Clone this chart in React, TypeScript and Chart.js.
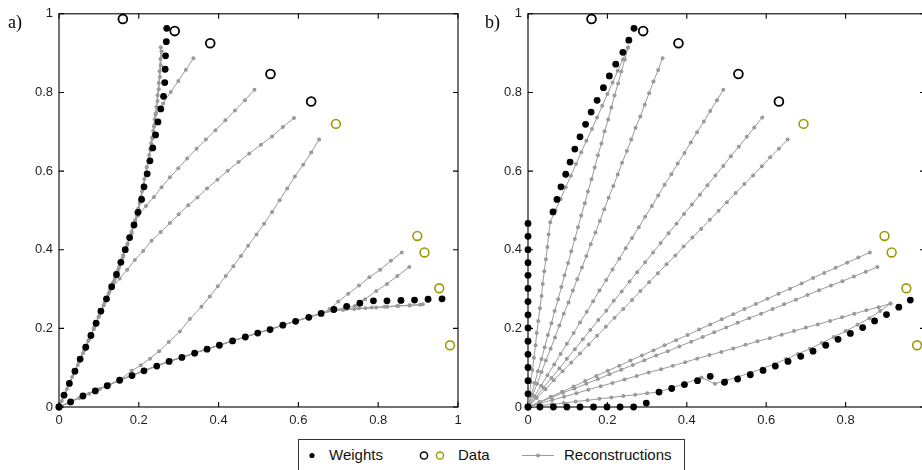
import React, { useEffect, useRef } from "react";
import { Chart, registerables } from "chart.js";

Chart.register(...registerables);

type P = [number, number];

const TICK_VALUES = [0, 0.2, 0.4, 0.6, 0.8, 1];
const TICK_LABELS = ["0", "0.2", "0.4", "0.6", "0.8", "1"];
const PANEL_LABELS = ["a)", "b)"];
const LEGEND_LABELS = ["Weights", "Data", "Reconstructions"];

// Data points (same in both panels)
const DATA_BLACK: P[] = [[0.160, 0.987], [0.290, 0.956], [0.379, 0.925], [0.530, 0.847], [0.632, 0.777]];
const DATA_OLIVE: P[] = [[0.694, 0.720], [0.898, 0.435], [0.916, 0.393], [0.953, 0.302], [0.980, 0.157]];

// ---- Panel a) ----
const A_WEIGHTS_1: P[] = [[0, 0], [0.0126, 0.030], [0.026, 0.060], [0.040, 0.091], [0.053, 0.122], [0.067, 0.152], [0.080, 0.182], [0.093, 0.213], [0.105, 0.244], [0.119, 0.275], [0.132, 0.306], [0.144, 0.337], [0.155, 0.368], [0.166, 0.400], [0.177, 0.431], [0.188, 0.463], [0.198, 0.495], [0.207, 0.528], [0.213, 0.560], [0.221, 0.593], [0.228, 0.626], [0.235, 0.659], [0.242, 0.692], [0.248, 0.725], [0.255, 0.758], [0.262, 0.790], [0.265, 0.825], [0.266, 0.859], [0.267, 0.893], [0.269, 0.929], [0.270, 0.963]];
const A_WEIGHTS_2: P[] = [[0, 0], [0.029, 0.013], [0.060, 0.028], [0.091, 0.041], [0.121, 0.054], [0.152, 0.068], [0.183, 0.080], [0.213, 0.092], [0.245, 0.104], [0.276, 0.116], [0.308, 0.126], [0.340, 0.137], [0.371, 0.147], [0.402, 0.157], [0.435, 0.168], [0.467, 0.178], [0.498, 0.188], [0.529, 0.197], [0.561, 0.208], [0.593, 0.218], [0.626, 0.228], [0.657, 0.238], [0.689, 0.248], [0.721, 0.256], [0.754, 0.264], [0.788, 0.270], [0.822, 0.270], [0.857, 0.271], [0.891, 0.272], [0.925, 0.274], [0.960, 0.275]];

const A_REC_1: P[] = [[0, 0], [0.013, 0.031], [0.026, 0.061], [0.040, 0.092], [0.053, 0.122], [0.067, 0.153], [0.080, 0.183], [0.093, 0.214], [0.105, 0.244], [0.119, 0.275], [0.132, 0.305], [0.143, 0.336], [0.154, 0.366], [0.165, 0.397], [0.176, 0.427], [0.186, 0.458], [0.195, 0.488], [0.202, 0.519], [0.208, 0.549], [0.214, 0.580], [0.220, 0.610], [0.226, 0.641], [0.231, 0.671], [0.236, 0.702], [0.240, 0.732], [0.244, 0.763], [0.247, 0.793], [0.250, 0.824], [0.252, 0.854], [0.254, 0.885], [0.255, 0.915]];
const A_REC_2: P[] = [[0, 0], [0.007, 0.015], [0.020, 0.046], [0.033, 0.076], [0.047, 0.107], [0.060, 0.137], [0.073, 0.168], [0.087, 0.198], [0.099, 0.229], [0.112, 0.259], [0.125, 0.290], [0.138, 0.320], [0.149, 0.351], [0.160, 0.381], [0.171, 0.412], [0.182, 0.442], [0.191, 0.473], [0.199, 0.503], [0.206, 0.534], [0.212, 0.564], [0.218, 0.595], [0.224, 0.625], [0.229, 0.656], [0.234, 0.686], [0.239, 0.717], [0.243, 0.747], [0.247, 0.778], [0.250, 0.808], [0.253, 0.839], [0.255, 0.869], [0.257, 0.905]];
const A_REC_3: P[] = [[0, 0], [0.013, 0.030], [0.026, 0.059], [0.039, 0.089], [0.052, 0.119], [0.066, 0.149], [0.078, 0.178], [0.091, 0.208], [0.103, 0.238], [0.115, 0.267], [0.128, 0.297], [0.140, 0.327], [0.151, 0.357], [0.161, 0.386], [0.172, 0.416], [0.182, 0.446], [0.191, 0.475], [0.199, 0.505], [0.206, 0.535], [0.212, 0.564], [0.218, 0.594], [0.224, 0.624], [0.229, 0.654], [0.234, 0.683], [0.238, 0.713], [0.242, 0.743], [0.261, 0.772], [0.280, 0.801], [0.299, 0.829], [0.318, 0.858], [0.337, 0.887]];
const A_REC_4: P[] = [[0, 0], [0.012, 0.029], [0.025, 0.058], [0.038, 0.086], [0.050, 0.115], [0.063, 0.144], [0.076, 0.173], [0.088, 0.202], [0.100, 0.230], [0.112, 0.259], [0.124, 0.288], [0.136, 0.317], [0.147, 0.346], [0.157, 0.374], [0.167, 0.403], [0.177, 0.432], [0.187, 0.461], [0.198, 0.487], [0.218, 0.511], [0.238, 0.534], [0.257, 0.559], [0.278, 0.584], [0.299, 0.607], [0.321, 0.632], [0.345, 0.657], [0.368, 0.680], [0.392, 0.704], [0.417, 0.729], [0.441, 0.754], [0.466, 0.780], [0.490, 0.807]];
const A_REC_5: P[] = [[0, 0], [0.013, 0.030], [0.026, 0.061], [0.040, 0.091], [0.053, 0.121], [0.066, 0.152], [0.079, 0.182], [0.092, 0.212], [0.105, 0.242], [0.118, 0.273], [0.134, 0.303], [0.152, 0.327], [0.171, 0.349], [0.190, 0.374], [0.211, 0.397], [0.232, 0.423], [0.255, 0.445], [0.278, 0.468], [0.300, 0.490], [0.324, 0.513], [0.347, 0.533], [0.371, 0.556], [0.397, 0.578], [0.423, 0.601], [0.450, 0.623], [0.477, 0.645], [0.506, 0.667], [0.534, 0.688], [0.561, 0.712], [0.589, 0.735]];
const A_REC_6: P[] = [[0, 0], [0.025, 0.011], [0.051, 0.023], [0.076, 0.034], [0.102, 0.046], [0.127, 0.057], [0.153, 0.069], [0.182, 0.092], [0.205, 0.106], [0.228, 0.123], [0.251, 0.142], [0.275, 0.165], [0.303, 0.192], [0.328, 0.224], [0.357, 0.255], [0.378, 0.281], [0.398, 0.307], [0.418, 0.333], [0.437, 0.358], [0.456, 0.384], [0.474, 0.410], [0.495, 0.439], [0.514, 0.466], [0.534, 0.496], [0.553, 0.526], [0.572, 0.556], [0.591, 0.586], [0.612, 0.616], [0.632, 0.647], [0.652, 0.680]];
const A_REC_7: P[] = [[0, 0], [0.029, 0.013], [0.060, 0.028], [0.091, 0.041], [0.121, 0.054], [0.152, 0.068], [0.183, 0.080], [0.213, 0.092], [0.245, 0.104], [0.276, 0.116], [0.308, 0.126], [0.340, 0.137], [0.371, 0.147], [0.402, 0.157], [0.435, 0.168], [0.467, 0.178], [0.498, 0.188], [0.529, 0.197], [0.561, 0.208], [0.593, 0.218], [0.626, 0.228], [0.657, 0.238], [0.678, 0.249], [0.700, 0.268], [0.725, 0.288], [0.752, 0.309], [0.778, 0.330], [0.805, 0.349], [0.832, 0.372], [0.859, 0.393]];
const A_REC_8: P[] = [[0, 0], [0.029, 0.013], [0.060, 0.028], [0.091, 0.041], [0.121, 0.054], [0.152, 0.068], [0.183, 0.080], [0.213, 0.092], [0.245, 0.104], [0.276, 0.116], [0.308, 0.126], [0.340, 0.137], [0.371, 0.147], [0.402, 0.157], [0.435, 0.168], [0.467, 0.178], [0.498, 0.188], [0.529, 0.197], [0.561, 0.208], [0.593, 0.218], [0.626, 0.228], [0.657, 0.238], [0.689, 0.248], [0.715, 0.251], [0.742, 0.257], [0.767, 0.274], [0.795, 0.295], [0.822, 0.313], [0.848, 0.333], [0.878, 0.356]];
const A_REC_9: P[] = [[0, 0], [0.029, 0.013], [0.060, 0.028], [0.091, 0.041], [0.121, 0.054], [0.152, 0.068], [0.183, 0.080], [0.213, 0.092], [0.245, 0.104], [0.276, 0.116], [0.308, 0.126], [0.340, 0.137], [0.371, 0.147], [0.402, 0.157], [0.435, 0.168], [0.467, 0.178], [0.498, 0.188], [0.529, 0.197], [0.561, 0.208], [0.593, 0.218], [0.626, 0.228], [0.657, 0.238], [0.689, 0.245], [0.721, 0.249], [0.752, 0.251], [0.784, 0.253], [0.816, 0.255], [0.848, 0.257], [0.880, 0.259], [0.912, 0.261]];
const A_REC_10: P[] = [[0, 0], [0.029, 0.014], [0.060, 0.029], [0.091, 0.042], [0.121, 0.055], [0.152, 0.069], [0.183, 0.081], [0.213, 0.093], [0.245, 0.105], [0.276, 0.117], [0.308, 0.127], [0.340, 0.138], [0.371, 0.148], [0.402, 0.158], [0.435, 0.169], [0.467, 0.179], [0.498, 0.189], [0.529, 0.198], [0.561, 0.209], [0.593, 0.219], [0.626, 0.229], [0.657, 0.238], [0.685, 0.244], [0.712, 0.247], [0.740, 0.249], [0.768, 0.251], [0.795, 0.253], [0.823, 0.255], [0.850, 0.257], [0.878, 0.258], [0.905, 0.260]];

// ---- Panel b) ----
const B_WEIGHTS_1: P[] = [[0, 0], [0, 0.0335], [0, 0.067], [0, 0.1005], [0, 0.134], [0, 0.1675], [0, 0.201], [0, 0.2345], [0, 0.268], [0, 0.3015], [0, 0.335], [0, 0.367], [0, 0.400], [0, 0.434], [0, 0.467], [0.063, 0.496], [0.073, 0.528], [0.083, 0.560], [0.095, 0.592], [0.106, 0.623], [0.118, 0.656], [0.131, 0.687], [0.145, 0.719], [0.159, 0.750], [0.174, 0.780], [0.190, 0.812], [0.205, 0.842], [0.221, 0.872], [0.239, 0.902], [0.254, 0.933], [0.267, 0.963]];
const B_WEIGHTS_2: P[] = [[0, 0], [0.030, 0], [0.064, 0], [0.098, 0], [0.131, 0], [0.165, 0], [0.199, 0], [0.232, 0], [0.266, 0], [0.298, 0.010], [0.330, 0.038], [0.362, 0.047], [0.394, 0.057], [0.427, 0.067], [0.459, 0.078], [0.495, 0.063], [0.528, 0.071], [0.560, 0.082], [0.592, 0.093], [0.623, 0.104], [0.655, 0.116], [0.687, 0.129], [0.718, 0.142], [0.750, 0.157], [0.781, 0.172], [0.812, 0.187], [0.843, 0.202], [0.873, 0.219], [0.903, 0.235], [0.934, 0.254], [0.963, 0.272]];

const B_REC_1: P[] = [[0, 0], [0.004, 0.031], [0.007, 0.063], [0.011, 0.094], [0.015, 0.125], [0.019, 0.157], [0.022, 0.188], [0.026, 0.219], [0.030, 0.251], [0.034, 0.282], [0.037, 0.313], [0.041, 0.345], [0.045, 0.376], [0.049, 0.407], [0.052, 0.439], [0.056, 0.470], [0.069, 0.500], [0.082, 0.529], [0.095, 0.559], [0.108, 0.588], [0.121, 0.618], [0.134, 0.648], [0.147, 0.677], [0.161, 0.707], [0.174, 0.736], [0.187, 0.766], [0.200, 0.796], [0.213, 0.825], [0.226, 0.855], [0.239, 0.884], [0.252, 0.914]];
const B_REC_2: P[] = [[0, 0], [0.008, 0.030], [0.017, 0.061], [0.025, 0.091], [0.034, 0.122], [0.042, 0.152], [0.050, 0.183], [0.059, 0.213], [0.067, 0.244], [0.076, 0.274], [0.084, 0.305], [0.092, 0.335], [0.101, 0.366], [0.109, 0.396], [0.118, 0.427], [0.126, 0.457], [0.134, 0.487], [0.143, 0.518], [0.151, 0.548], [0.160, 0.579], [0.168, 0.609], [0.176, 0.640], [0.185, 0.670], [0.193, 0.701], [0.202, 0.731], [0.210, 0.762], [0.218, 0.792], [0.227, 0.823], [0.235, 0.853], [0.244, 0.884], [0.252, 0.914]];
const B_REC_3: P[] = [[0, 0], [0.011, 0.030], [0.023, 0.059], [0.034, 0.089], [0.045, 0.118], [0.057, 0.148], [0.068, 0.177], [0.079, 0.207], [0.090, 0.237], [0.102, 0.266], [0.113, 0.296], [0.124, 0.325], [0.136, 0.355], [0.147, 0.384], [0.158, 0.414], [0.170, 0.444], [0.181, 0.473], [0.192, 0.503], [0.203, 0.532], [0.215, 0.562], [0.226, 0.591], [0.237, 0.621], [0.249, 0.651], [0.260, 0.680], [0.271, 0.710], [0.283, 0.739], [0.294, 0.769], [0.305, 0.798], [0.316, 0.828], [0.328, 0.857], [0.339, 0.887]];
const B_REC_4: P[] = [[0, 0], [0.016, 0.027], [0.033, 0.054], [0.049, 0.081], [0.066, 0.108], [0.082, 0.135], [0.098, 0.161], [0.115, 0.188], [0.131, 0.215], [0.148, 0.242], [0.164, 0.269], [0.180, 0.296], [0.197, 0.323], [0.213, 0.350], [0.230, 0.377], [0.246, 0.404], [0.262, 0.430], [0.279, 0.457], [0.295, 0.484], [0.312, 0.511], [0.328, 0.538], [0.344, 0.565], [0.361, 0.592], [0.377, 0.619], [0.394, 0.646], [0.410, 0.673], [0.426, 0.699], [0.443, 0.726], [0.459, 0.753], [0.476, 0.780], [0.492, 0.807]];
const B_REC_5: P[] = [[0, 0], [0.020, 0.025], [0.039, 0.049], [0.059, 0.074], [0.079, 0.098], [0.098, 0.123], [0.118, 0.147], [0.138, 0.172], [0.157, 0.196], [0.177, 0.221], [0.197, 0.245], [0.216, 0.270], [0.236, 0.294], [0.256, 0.319], [0.275, 0.343], [0.295, 0.368], [0.315, 0.393], [0.334, 0.417], [0.354, 0.442], [0.374, 0.466], [0.393, 0.491], [0.413, 0.515], [0.433, 0.540], [0.452, 0.564], [0.472, 0.589], [0.492, 0.613], [0.511, 0.638], [0.531, 0.662], [0.551, 0.687], [0.570, 0.711], [0.590, 0.736]];
const B_REC_6: P[] = [[0, 0], [0.022, 0.023], [0.044, 0.045], [0.065, 0.068], [0.087, 0.091], [0.109, 0.113], [0.131, 0.136], [0.153, 0.159], [0.174, 0.181], [0.196, 0.204], [0.218, 0.227], [0.240, 0.249], [0.262, 0.272], [0.283, 0.295], [0.305, 0.317], [0.327, 0.340], [0.349, 0.363], [0.371, 0.385], [0.392, 0.408], [0.414, 0.431], [0.436, 0.453], [0.458, 0.476], [0.480, 0.499], [0.501, 0.521], [0.523, 0.544], [0.545, 0.567], [0.567, 0.589], [0.589, 0.612], [0.610, 0.635], [0.632, 0.657], [0.654, 0.680]];
const B_REC_7: P[] = [[0, 0], [0.029, 0.013], [0.057, 0.026], [0.086, 0.039], [0.115, 0.052], [0.144, 0.066], [0.172, 0.079], [0.201, 0.092], [0.230, 0.105], [0.258, 0.118], [0.287, 0.131], [0.316, 0.144], [0.344, 0.157], [0.373, 0.170], [0.402, 0.183], [0.431, 0.197], [0.459, 0.210], [0.488, 0.223], [0.517, 0.236], [0.545, 0.249], [0.574, 0.262], [0.603, 0.275], [0.631, 0.288], [0.660, 0.301], [0.689, 0.314], [0.718, 0.328], [0.746, 0.341], [0.775, 0.354], [0.804, 0.367], [0.832, 0.380], [0.861, 0.393]];
const B_REC_8: P[] = [[0, 0], [0.029, 0.012], [0.059, 0.024], [0.088, 0.036], [0.117, 0.047], [0.147, 0.059], [0.176, 0.071], [0.205, 0.083], [0.235, 0.095], [0.264, 0.107], [0.293, 0.119], [0.323, 0.131], [0.352, 0.142], [0.381, 0.154], [0.411, 0.166], [0.440, 0.178], [0.469, 0.190], [0.499, 0.202], [0.528, 0.214], [0.557, 0.226], [0.587, 0.237], [0.616, 0.249], [0.645, 0.261], [0.675, 0.273], [0.704, 0.285], [0.733, 0.297], [0.763, 0.309], [0.792, 0.320], [0.821, 0.332], [0.851, 0.344], [0.880, 0.356]];
const B_REC_9: P[] = [[0, 0], [0.030, 0.009], [0.061, 0.018], [0.091, 0.026], [0.122, 0.035], [0.152, 0.044], [0.183, 0.053], [0.213, 0.061], [0.243, 0.070], [0.274, 0.079], [0.304, 0.088], [0.335, 0.096], [0.365, 0.105], [0.396, 0.114], [0.426, 0.123], [0.457, 0.132], [0.487, 0.140], [0.517, 0.149], [0.548, 0.158], [0.578, 0.167], [0.609, 0.175], [0.639, 0.184], [0.670, 0.193], [0.700, 0.202], [0.730, 0.210], [0.761, 0.219], [0.791, 0.228], [0.822, 0.237], [0.852, 0.246], [0.883, 0.254], [0.913, 0.263]];
const B_REC_10: P[] = [[0, 0], [0.030, 0.0035], [0.060, 0.007], [0.090, 0.010], [0.120, 0.014], [0.150, 0.017], [0.180, 0.021], [0.210, 0.024], [0.240, 0.028], [0.270, 0.031], [0.300, 0.035], [0.330, 0.038], [0.362, 0.049], [0.394, 0.059], [0.437, 0.075], [0.471, 0.059], [0.500, 0.068], [0.530, 0.077], [0.560, 0.087], [0.590, 0.098], [0.620, 0.109], [0.650, 0.122], [0.680, 0.135], [0.710, 0.148], [0.740, 0.163], [0.770, 0.178], [0.800, 0.193], [0.830, 0.209], [0.860, 0.226], [0.887, 0.244], [0.913, 0.263]];

const A_WEIGHTS = [A_WEIGHTS_1, A_WEIGHTS_2];
const A_RECS = [A_REC_1, A_REC_2, A_REC_3, A_REC_4, A_REC_5, A_REC_6, A_REC_7, A_REC_8, A_REC_9, A_REC_10];
const B_WEIGHTS = [B_WEIGHTS_1, B_WEIGHTS_2];
const B_RECS = [B_REC_1, B_REC_2, B_REC_3, B_REC_4, B_REC_5, B_REC_6, B_REC_7, B_REC_8, B_REC_9, B_REC_10];

const BLACK = "#000000";
const OLIVE = "#9c9c00";
const GRAY = "#9a9a9a";
const TEXT = "#1e1e1e";
const SANS = "'Liberation Sans', Arial, Helvetica, sans-serif";
const SERIF = "'Liberation Serif', 'Times New Roman', serif";

const CANVAS_W = 470;
const CANVAS_H = 440;

const framePlugin = {
  id: "frameTicks",
  beforeDatasetsDraw(chart: any) {
    const { ctx, chartArea, scales } = chart;
    const { left, right, top, bottom } = chartArea;
    const xs = scales.x;
    const ys = scales.y;
    const tl = 5;
    ctx.save();
    ctx.strokeStyle = BLACK;
    ctx.lineWidth = 1.1;
    ctx.strokeRect(left, top, right - left, bottom - top);
    ctx.beginPath();
    for (const v of TICK_VALUES) {
      const px = xs.getPixelForValue(v);
      ctx.moveTo(px, bottom);
      ctx.lineTo(px, bottom - tl);
      ctx.moveTo(px, top);
      ctx.lineTo(px, top + tl);
      const py = ys.getPixelForValue(v);
      ctx.moveTo(left, py);
      ctx.lineTo(left + tl, py);
      ctx.moveTo(right, py);
      ctx.lineTo(right - tl, py);
    }
    ctx.stroke();
    ctx.restore();
  },
};

const toXY = (pts: P[]) => pts.map(([x, y]) => ({ x, y }));

function buildConfig(weights: P[][], recs: P[][], yWidth: number, padRight: number): any {
  const datasets: any[] = [
    {
      label: LEGEND_LABELS[1],
      data: toXY(DATA_BLACK),
      showLine: false,
      pointRadius: 4.4,
      pointBorderWidth: 1.8,
      pointBorderColor: BLACK,
      pointBackgroundColor: "rgba(0,0,0,0)",
      order: 0,
      clip: false,
    },
    {
      label: LEGEND_LABELS[1],
      data: toXY(DATA_OLIVE),
      showLine: false,
      pointRadius: 4.4,
      pointBorderWidth: 1.6,
      pointBorderColor: OLIVE,
      pointBackgroundColor: "rgba(0,0,0,0)",
      order: 0,
      clip: false,
    },
    ...weights.map((w) => ({
      label: LEGEND_LABELS[0],
      data: toXY(w),
      showLine: false,
      pointRadius: 3.4,
      pointBorderWidth: 0,
      pointBackgroundColor: BLACK,
      pointBorderColor: BLACK,
      order: 1,
      clip: false,
    })),
    ...recs.map((r) => ({
      label: LEGEND_LABELS[2],
      data: toXY(r),
      showLine: true,
      borderColor: GRAY,
      borderWidth: 1,
      pointRadius: 2,
      pointBorderWidth: 0,
      pointBackgroundColor: GRAY,
      pointBorderColor: GRAY,
      order: 2,
      clip: false,
    })),
  ];

  const tickCommon = {
    autoSkip: false,
    maxRotation: 0,
    padding: 6,
    color: TEXT,
    font: { family: SANS, size: 13 },
    callback: (v: number) => {
      const i = TICK_VALUES.findIndex((t) => Math.abs(t - v) < 1e-9);
      return i >= 0 ? TICK_LABELS[i] : "";
    },
  };

  return {
    type: "scatter",
    data: { datasets },
    plugins: [framePlugin],
    options: {
      responsive: false,
      animation: false,
      devicePixelRatio: 1,
      events: [],
      layout: { padding: { left: 0, right: padRight, top: 9, bottom: 0 } },
      plugins: { legend: { display: false }, tooltip: { enabled: false } },
      scales: {
        x: {
          type: "linear",
          min: 0,
          max: 1,
          afterBuildTicks: (s: any) => {
            s.ticks = TICK_VALUES.map((v) => ({ value: v }));
          },
          afterFit: (s: any) => {
            s.height = 33;
          },
          ticks: tickCommon,
          grid: { display: false, drawTicks: false },
          border: { display: false },
        },
        y: {
          type: "linear",
          min: 0,
          max: 1,
          afterBuildTicks: (s: any) => {
            s.ticks = TICK_VALUES.map((v) => ({ value: v }));
          },
          afterFit: (s: any) => {
            s.width = yWidth;
          },
          ticks: tickCommon,
          grid: { display: false, drawTicks: false },
          border: { display: false },
        },
      },
    },
  };
}

function Panel(props: { left: number; weights: P[][]; recs: P[][]; yWidth: number; padRight: number }) {
  const ref = useRef<HTMLCanvasElement | null>(null);
  useEffect(() => {
    if (!ref.current) return;
    const chart = new Chart(ref.current, buildConfig(props.weights, props.recs, props.yWidth, props.padRight));
    return () => chart.destroy();
  }, []);
  return (
    <canvas
      ref={ref}
      width={CANVAS_W}
      height={CANVAS_H}
      style={{ position: "absolute", left: props.left, top: 0, width: CANVAS_W, height: CANVAS_H }}
    />
  );
}

function Legend() {
  const textStyle: React.CSSProperties = {
    position: "absolute",
    top: 6,
    fontFamily: SANS,
    fontSize: 15,
    lineHeight: "17px",
    color: "#111",
    whiteSpace: "nowrap",
  };
  return (
    <div
      style={{
        position: "absolute",
        left: 298,
        top: 439,
        width: 385,
        height: 40,
        border: "1px solid #333",
        background: "#fff",
      }}
    >
      <svg width={385} height={40} style={{ position: "absolute", left: 0, top: 0 }}>
        <circle cx={13} cy={15.5} r={2.6} fill={BLACK} />
        <circle cx={125} cy={15.5} r={3.6} fill="none" stroke={BLACK} strokeWidth={1.5} />
        <circle cx={141} cy={15.5} r={3.6} fill="none" stroke={OLIVE} strokeWidth={1.5} />
        <line x1={223} y1={15.5} x2={255} y2={15.5} stroke={GRAY} strokeWidth={1} />
        <circle cx={239} cy={15.5} r={2} fill={GRAY} />
      </svg>
      <span style={{ ...textStyle, left: 30 }}>{LEGEND_LABELS[0]}</span>
      <span style={{ ...textStyle, left: 159 }}>{LEGEND_LABELS[1]}</span>
      <span style={{ ...textStyle, left: 265 }}>{LEGEND_LABELS[2]}</span>
    </div>
  );
}

export default function App() {
  const labelStyle: React.CSSProperties = {
    position: "absolute",
    top: 13,
    fontFamily: SERIF,
    fontSize: 18,
    lineHeight: "18px",
    color: "#000",
  };
  return (
    <div
      style={{
        position: "absolute",
        left: 0,
        top: 0,
        width: 922,
        height: 470,
        overflow: "hidden",
        background: "#fff",
      }}
    >
      <Panel left={0} weights={A_WEIGHTS} recs={A_RECS} yWidth={59} padRight={12} />
      <Panel left={470} weights={B_WEIGHTS} recs={B_RECS} yWidth={58} padRight={15} />
      <span style={{ ...labelStyle, left: 8 }}>{PANEL_LABELS[0]}</span>
      <span style={{ ...labelStyle, left: 485 }}>{PANEL_LABELS[1]}</span>
      <Legend />
    </div>
  );
}
